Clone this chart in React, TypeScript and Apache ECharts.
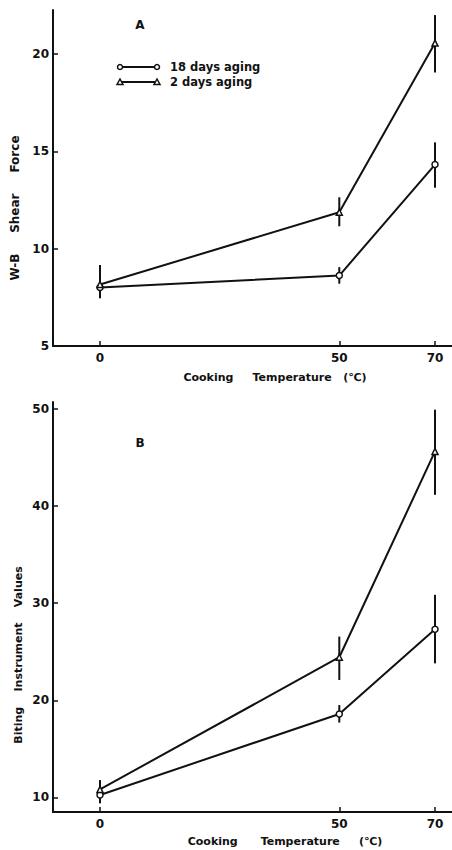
import React, { useEffect, useRef } from "react";
import * as echarts from "echarts";

const temps = [0, 50, 70];
const xTickLabels = ["0", "50", "70"];

const shear18 = [8.0, 8.62, 14.32];
const shear18Low = [7.45, 8.2, 13.13];
const shear18High = [8.5, 9.05, 15.46];
const shear2 = [8.16, 11.87, 20.56];
const shear2Low = [7.6, 11.15, 19.05];
const shear2High = [9.16, 12.64, 22.0];

const biting18 = [10.24, 18.59, 27.32];
const biting18Low = [9.38, 17.7, 23.8];
const biting18High = [10.9, 19.5, 30.86];
const biting2 = [10.82, 24.43, 45.63];
const biting2Low = [10.0, 22.09, 41.16];
const biting2High = [11.78, 26.56, 49.93];

const shearTicks = [5, 10, 15, 20];
const bitingTicks = [10, 20, 30, 40, 50];

const seriesNames = ["18 days aging", "2 days aging"];

const INK = "#111";
const FONT = "DejaVu Sans";
const NB = "\u00A0";

export default function App() {
  const ref = useRef<HTMLDivElement>(null);

  useEffect(() => {
    if (!ref.current) return;
    const chart = echarts.init(ref.current, undefined, { renderer: "svg" });

    const pts = (ys: number[]) => temps.map((t, i) => [t, ys[i]]);
    const errs = (lo: number[], hi: number[]) => temps.map((t, i) => [t, lo[i], hi[i]]);

    const errorSeries = (data: number[][], gi: number) => ({
      type: "custom",
      xAxisIndex: gi,
      yAxisIndex: gi,
      z: 2,
      silent: true,
      data,
      renderItem: (params: any, api: any) => {
        const x = api.value(0);
        const p1 = api.coord([x, api.value(1)]);
        const p2 = api.coord([x, api.value(2)]);
        return {
          type: "line",
          shape: { x1: p1[0], y1: p1[1], x2: p2[0], y2: p2[1] },
          style: { stroke: INK, lineWidth: 2 },
        };
      },
    });

    const lineSeries = (name: string, data: number[][], gi: number, symbol: string) => ({
      type: "line",
      name,
      xAxisIndex: gi,
      yAxisIndex: gi,
      z: 3,
      data,
      symbol,
      symbolSize: 6,
      lineStyle: { color: INK, width: 2 },
      itemStyle: { color: "#fff", borderColor: INK, borderWidth: 1.5 },
    });

    const xAxisCommon = {
      type: "value",
      min: -9.82,
      max: 73.55,
      axisLine: { show: true, onZero: false, lineStyle: { color: INK, width: 2 } },
      axisTick: { show: true, inside: true, length: 5, customValues: temps, lineStyle: { color: INK, width: 1.5 } },
      axisLabel: {
        customValues: temps,
        formatter: (v: number) => xTickLabels[temps.indexOf(v)] ?? "",
        color: INK,
        fontFamily: FONT,
        fontWeight: "bold",
        fontSize: 12,
        margin: 6,
      },
      splitLine: { show: false },
    };

    const yAxisCommon = (min: number, max: number, ticks: number[]) => ({
      type: "value",
      min,
      max,
      axisLine: { show: true, onZero: false, lineStyle: { color: INK, width: 2 } },
      axisTick: { show: true, inside: true, length: 5, customValues: ticks, lineStyle: { color: INK, width: 1.5 } },
      axisLabel: {
        customValues: ticks,
        color: INK,
        fontFamily: FONT,
        fontWeight: "bold",
        fontSize: 12,
        margin: 4,
      },
      splitLine: { show: false },
    });

    const textStyle = (text: string, fontSize = 11) => ({
      text,
      fill: INK,
      font: `bold ${fontSize}px "${FONT}"`,
    });

    const legendRow = (y: number, symbol: "circle" | "triangle", label: string) => {
      const marker = (x: number) =>
        symbol === "circle"
          ? { type: "circle", shape: { cx: x, cy: y, r: 2.5 }, style: { fill: "#fff", stroke: INK, lineWidth: 1.5 } }
          : {
              type: "polygon",
              shape: { points: [[x, y - 3], [x - 3, y + 2.5], [x + 3, y + 2.5]] },
              style: { fill: "#fff", stroke: INK, lineWidth: 1.5 },
            };
      return [
        { type: "line", shape: { x1: 120, y1: y, x2: 157, y2: y }, style: { stroke: INK, lineWidth: 2 } },
        marker(120),
        marker(157),
        {
          type: "text",
          x: 170,
          y,
          style: { ...textStyle(label, 11.5), verticalAlign: "middle", textAlign: "left" },
        },
      ];
    };

    chart.setOption({
      animation: false,
      backgroundColor: "#fff",
      grid: [
        { left: 53, top: 10, width: 399, height: 336 },
        { left: 53, top: 402, width: 399, height: 410 },
      ],
      xAxis: [
        { ...xAxisCommon, gridIndex: 0 },
        { ...xAxisCommon, gridIndex: 1 },
      ],
      yAxis: [
        { ...yAxisCommon(5, 22.26, shearTicks), gridIndex: 0 },
        { ...yAxisCommon(8.49, 50.72, bitingTicks), gridIndex: 1 },
      ],
      series: [
        errorSeries(errs(shear18Low, shear18High), 0),
        errorSeries(errs(shear2Low, shear2High), 0),
        lineSeries(seriesNames[0], pts(shear18), 0, "circle"),
        lineSeries(seriesNames[1], pts(shear2), 0, "triangle"),
        errorSeries(errs(biting18Low, biting18High), 1),
        errorSeries(errs(biting2Low, biting2High), 1),
        lineSeries(seriesNames[0], pts(biting18), 1, "circle"),
        lineSeries(seriesNames[1], pts(biting2), 1, "triangle"),
      ],
      graphic: [
        { type: "text", x: 140, y: 25, style: { ...textStyle("A", 12), textAlign: "center", verticalAlign: "middle" } },
        { type: "text", x: 140, y: 443, style: { ...textStyle("B", 12), textAlign: "center", verticalAlign: "middle" } },
        ...legendRow(67, "circle", seriesNames[0]),
        ...legendRow(82, "triangle", seriesNames[1]),
        {
          type: "text",
          x: 275,
          y: 377,
          style: {
            ...textStyle(`Cooking${NB}${NB}${NB}${NB}${NB}Temperature${NB}${NB}${NB}(℃)`, 11),
            textAlign: "center",
            verticalAlign: "middle",
          },
        },
        {
          type: "text",
          x: 285,
          y: 841,
          style: {
            ...textStyle(`Cooking${NB}${NB}${NB}${NB}${NB}${NB}Temperature${NB}${NB}${NB}${NB}${NB}(℃)`, 11),
            textAlign: "center",
            verticalAlign: "middle",
          },
        },
        {
          type: "text",
          x: 15,
          y: 208,
          rotation: Math.PI / 2,
          style: {
            ...textStyle(`W-B${NB}${NB}${NB}${NB}${NB}Shear${NB}${NB}${NB}${NB}${NB}Force`, 12),
            textAlign: "center",
            verticalAlign: "middle",
          },
        },
        {
          type: "text",
          x: 18,
          y: 655,
          rotation: Math.PI / 2,
          style: {
            ...textStyle(`Biting${NB}${NB}${NB}${NB}Instrument${NB}${NB}${NB}${NB}Values`, 11),
            textAlign: "center",
            verticalAlign: "middle",
          },
        },
      ],
    });

    return () => chart.dispose();
  }, []);

  return (
    <div
      ref={ref}
      style={{ position: "fixed", left: 0, top: 0, width: 452, height: 850, background: "#fff" }}
    />
  );
}
